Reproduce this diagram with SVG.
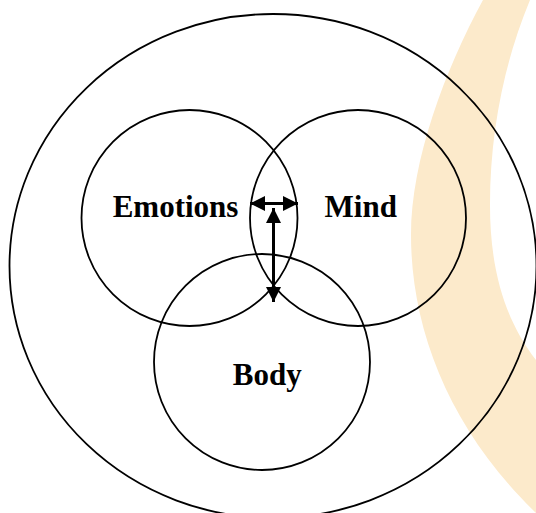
<svg xmlns="http://www.w3.org/2000/svg" width="536" height="513" viewBox="0 0 536 513">
  <style>
    .ring { fill: none; stroke: #000; stroke-width: 1.8; }
    .lbl { font-family: "Liberation Serif", "Times New Roman", serif; font-weight: bold; font-size: 31px; fill: #000; text-anchor: middle; }
    .conn { stroke: #000; stroke-width: 3; fill: none; }
  </style>
  <defs>
    <marker id="ah" viewBox="0 0 5 5" refX="5" refY="2.5" markerWidth="5" markerHeight="5" markerUnits="strokeWidth" orient="auto-start-reverse">
      <path d="M0,0 L5,2.5 L0,5 Z" fill="#000"/>
    </marker>
  </defs>
  <rect width="536" height="513" fill="#fff"/>
  <path id="watermark" d="M483,0 C445,70 411,160 411,235 C411,330 450,430 536,513 L536,360 C505,320 490,270 490,205 C490,130 505,60 530,0 Z" fill="#FCEACB"/>
  <g id="whole">
    <ellipse class="ring" cx="273" cy="266" rx="263.5" ry="252"/>
  </g>
  <g id="emotions">
    <circle class="ring" cx="189.5" cy="218" r="108"/>
    <text class="lbl" x="175.5" y="217">Emotions</text>
  </g>
  <g id="mind">
    <circle class="ring" cx="358" cy="218" r="108"/>
    <text class="lbl" x="360.7" y="217">Mind</text>
  </g>
  <g id="body">
    <circle class="ring" cx="262" cy="362" r="108"/>
    <text class="lbl" x="267.2" y="385">Body</text>
  </g>
  <g id="connectors">
    <line class="conn" x1="250" y1="203.5" x2="298" y2="203.5" marker-start="url(#ah)" marker-end="url(#ah)"/>
    <line class="conn" x1="273.5" y1="208" x2="273.5" y2="302" marker-start="url(#ah)" marker-end="url(#ah)"/>
  </g>
</svg>
